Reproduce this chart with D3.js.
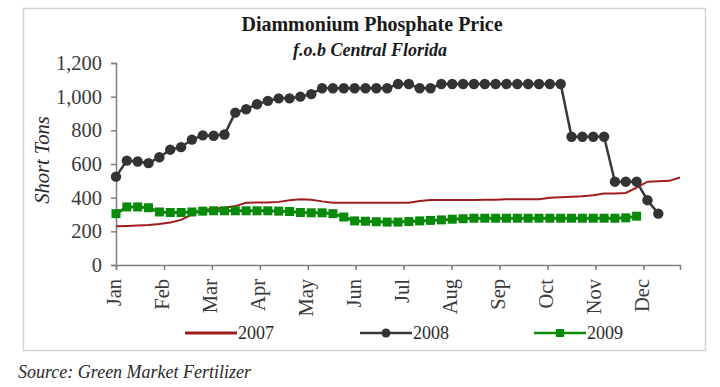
<!DOCTYPE html>
<html>
<head>
<meta charset="utf-8">
<script src="https://cdn.jsdelivr.net/npm/d3@7"></script>
<style>
  body { margin: 0; background: #ffffff; }
  svg { display: block; }
  text { font-family: "Liberation Serif", "Times New Roman", serif; }
</style>
</head>
<body>
<svg id="mySVG" width="720" height="387"></svg>
<script>
// Weekly prices, index = week of the year
const monthLabels = ["Jan", "Feb", "Mar", "Apr", "May", "Jun", "Jul", "Aug", "Sep", "Oct", "Nov", "Dec"];
const yTicks = [0, 200, 400, 600, 800, 1000, 1200];

const price2007 = [230, 232, 235, 238, 243, 252, 268, 300, 325, 335, 340, 350, 370, 372, 372, 375,
  385, 390, 388, 378, 370, 370, 370, 370, 370, 370, 370, 370, 380, 386, 386, 386,
  386, 386, 388, 388, 390, 390, 390, 390, 400, 402, 405, 408, 415, 425, 425, 428,
  460, 495, 497, 500, 520];

const price2008 = [525, 620, 615, 605, 640, 685, 700, 745, 770, 768, 775, 905, 925, 955, 975, 990,
  990, 1000, 1015, 1050, 1050, 1050, 1050, 1050, 1050, 1050, 1075, 1075, 1050, 1050, 1075, 1075,
  1075, 1075, 1075, 1075, 1075, 1075, 1075, 1075, 1075, 1075, 762, 762, 762, 762, 495, 495,
  495, 385, 305];

const price2009 = [305, 345, 345, 340, 315, 312, 312, 315, 320, 322, 322, 322, 322, 322, 322, 320,
  318, 312, 310, 310, 305, 285, 262, 260, 257, 255, 255, 258, 262, 265, 268, 272,
  275, 278, 278, 278, 278, 278, 278, 278, 278, 278, 278, 278, 278, 278, 278, 280,
  290];

const seriesNames = ["2007", "2008", "2009"];

const svg = d3.select("#mySVG");

svg.append("rect")
  .attr("x", 0).attr("y", 0)
  .attr("width", 720).attr("height", 387)
  .attr("fill", "#ffffff");

// chart frame
svg.append("rect")
  .attr("x", 23.5).attr("y", 8.5)
  .attr("width", 682).attr("height", 342)
  .attr("fill", "#ffffff")
  .attr("stroke", "#d4d4d4")
  .attr("stroke-width", 1.5);

const x = d3.scaleLinear().domain([0, 52]).range([116, 680]);
const y = d3.scaleLinear().domain([0, 1200]).range([265, 63]);
const weeksPerMonth = 4.42; // month ticks are evenly spaced on this chart

// Titles
svg.append("text")
  .attr("x", 372).attr("y", 31)
  .attr("text-anchor", "middle")
  .attr("font-size", "20px")
  .attr("font-weight", "bold")
  .attr("fill", "#1a1a1a")
  .text("Diammonium Phosphate Price");

svg.append("text")
  .attr("x", 370).attr("y", 56)
  .attr("text-anchor", "middle")
  .attr("font-size", "18px")
  .attr("font-weight", "bold")
  .attr("font-style", "italic")
  .attr("fill", "#1a1a1a")
  .text("f.o.b Central Florida");

// Y axis
const yAxis = svg.append("g")
  .attr("transform", "translate(116,0)")
  .call(d3.axisLeft(y).tickValues(yTicks).tickFormat(d3.format(",")).tickSize(5).tickPadding(9));

// X axis
const xAxis = svg.append("g")
  .attr("transform", "translate(0,265)")
  .call(d3.axisBottom(x)
    .tickValues(monthLabels.map((m, i) => i * weeksPerMonth))
    .tickFormat((d, i) => monthLabels[i])
    .tickSize(5));

[yAxis, xAxis].forEach(ax => {
  ax.select(".domain").attr("stroke", "#7f7f7f").attr("stroke-width", 1.5);
  ax.selectAll(".tick line").attr("stroke", "#7f7f7f").attr("stroke-width", 1.5);
  ax.selectAll("text")
    .attr("font-size", "20.5px")
    .attr("fill", "#3a3a3a")
    .style("font-family", "'Liberation Serif', 'Times New Roman', serif");
});

xAxis.selectAll("text")
  .attr("transform", "rotate(-90)")
  .attr("text-anchor", "end")
  .attr("dominant-baseline", "middle")
  .attr("x", -14)
  .attr("y", 0)
  .attr("dy", null);

svg.append("text")
  .attr("transform", "translate(49,160) rotate(-90)")
  .attr("text-anchor", "middle")
  .attr("font-size", "20.5px")
  .attr("font-style", "italic")
  .attr("fill", "#2a2a2a")
  .text("Short Tons");

const line = d3.line()
  .x((d, i) => x(i))
  .y(d => y(d));

// 2007
svg.append("path")
  .datum(price2007)
  .attr("d", line)
  .attr("fill", "none")
  .attr("stroke", "#a01c1c")
  .attr("stroke-width", 2);

// 2009
svg.append("path")
  .datum(price2009)
  .attr("d", line)
  .attr("fill", "none")
  .attr("stroke", "#0a8a0a")
  .attr("stroke-width", 3);

svg.selectAll("rect.m2009")
  .data(price2009)
  .enter()
  .append("rect")
  .attr("class", "m2009")
  .attr("x", (d, i) => x(i) - 4.5)
  .attr("y", d => y(d) - 4.5)
  .attr("width", 9)
  .attr("height", 9)
  .attr("fill", "#0a8a0a");

// 2008
svg.append("path")
  .datum(price2008)
  .attr("d", line)
  .attr("fill", "none")
  .attr("stroke", "#383838")
  .attr("stroke-width", 2.5);

svg.selectAll("circle.m2008")
  .data(price2008)
  .enter()
  .append("circle")
  .attr("class", "m2008")
  .attr("cx", (d, i) => x(i))
  .attr("cy", d => y(d))
  .attr("r", 5.2)
  .attr("fill", "#333333");

// Legend
const legendY = 333;
const legendX = [185, 360, 534];
const legendColors = ["#a01c1c", "#383838", "#0a8a0a"];

const lg = svg.selectAll("g.legend")
  .data(seriesNames)
  .enter()
  .append("g")
  .attr("class", "legend")
  .attr("transform", (d, i) => `translate(${legendX[i]},${legendY})`);

lg.append("line")
  .attr("x1", 0).attr("x2", 52)
  .attr("y1", 0).attr("y2", 0)
  .attr("stroke", (d, i) => legendColors[i])
  .attr("stroke-width", (d, i) => i === 0 ? 3 : 2.5);

lg.filter((d, i) => i === 1)
  .append("circle")
  .attr("cx", 26).attr("cy", 0).attr("r", 4.5)
  .attr("fill", "#333333");

lg.filter((d, i) => i === 2)
  .append("rect")
  .attr("x", 22).attr("y", -4).attr("width", 8).attr("height", 8)
  .attr("fill", "#0a8a0a");

lg.append("text")
  .attr("x", 53).attr("y", 6)
  .attr("font-size", "18px")
  .attr("fill", "#2a2a2a")
  .text(d => d);

// Source note
svg.append("text")
  .attr("x", 18).attr("y", 378)
  .attr("font-size", "18px")
  .attr("font-style", "italic")
  .attr("fill", "#2a2a2a")
  .text("Source: Green Market Fertilizer");
</script>
</body>
</html>
